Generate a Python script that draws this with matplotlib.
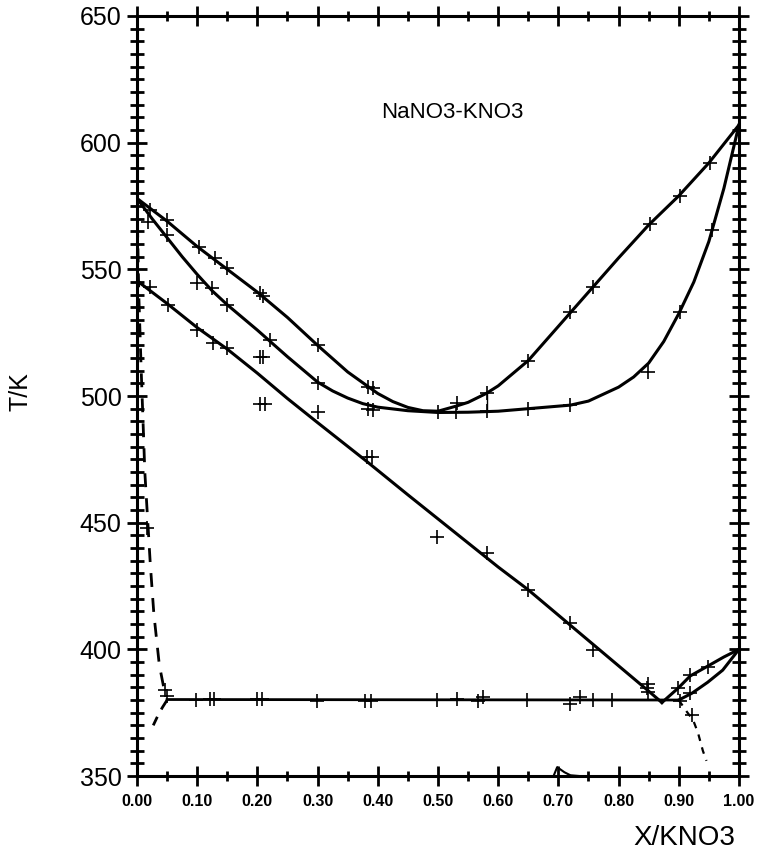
import matplotlib
matplotlib.use("Agg")
import matplotlib.pyplot as plt
import numpy as np

plt.rcParams["font.family"] = ["Liberation Sans", "DejaVu Sans"]

# upper curve (liquidus), closes at pure components
liq_x = [0.0, 0.025, 0.05, 0.10, 0.15, 0.20, 0.25, 0.30, 0.35, 0.40, 0.425, 0.45, 0.475,
         0.50, 0.53, 0.55, 0.58, 0.60, 0.65, 0.70, 0.75, 0.80, 0.85, 0.90, 0.95, 1.0]
liq_T = [578, 573.5, 569, 559, 550, 541, 531, 520, 509.5, 501, 497.8, 495.5, 494.2,
         494, 496, 497.5, 501, 504, 514, 527.5, 541, 554.5, 567.5, 579, 592, 607]

# middle curve (solidus)
sol_x = [0.0, 0.025, 0.05, 0.075, 0.10, 0.125, 0.15, 0.20, 0.25, 0.30, 0.325, 0.35,
         0.375, 0.40, 0.45, 0.50, 0.55, 0.60, 0.65, 0.72, 0.75, 0.80, 0.825, 0.85,
         0.875, 0.90, 0.925, 0.95, 0.975, 1.0]
sol_T = [578, 570, 562.5, 555, 548, 541.5, 536, 526, 515.5, 505.5, 502, 499.2,
         497, 495.6, 494.2, 493.5, 493.6, 494, 495, 496.4, 498, 503.5, 507.5, 513,
         521.5, 532.5, 545, 561, 582, 607]

# lower line down to the eutectic
low_x = [0.0, 0.025, 0.05, 0.10, 0.15, 0.20, 0.25, 0.30, 0.38, 0.45, 0.50, 0.55,
         0.60, 0.65, 0.70, 0.75, 0.80, 0.85, 0.872]
low_T = [545.5, 541, 536.5, 527, 518.5, 509, 499, 489.5, 474.5, 461, 451.5, 442,
         432.5, 423.5, 413.5, 403.5, 393.5, 383.5, 379]

# eutectic horizontal
eut_x = [0.05, 0.90]
eut_T = [380.2, 380]

# solvus lines near KNO3
solv_up_x = [0.872, 0.899, 0.919, 0.949, 0.975, 1.0]
solv_up_T = [379, 384.7, 389.5, 393.5, 397, 400]
solv_lo_x = [0.90, 0.922, 0.948, 0.973, 1.0]
solv_lo_T = [380, 382.7, 387, 391.8, 400]

# dashed solvus lines
dash_l_x = [0.0, 0.003, 0.007, 0.010, 0.013, 0.016, 0.019, 0.022, 0.028, 0.037, 0.046]
dash_l_T = [578, 540, 510, 490, 470, 458, 446, 434, 414, 394, 383]
dash_l2_x = [0.05, 0.042, 0.035, 0.027]
dash_l2_T = [380, 377, 374, 370]
dash_r_x = [0.90, 0.913, 0.924, 0.932, 0.94, 0.946]
dash_r_T = [380, 375.5, 372, 367, 360, 356]

# tie line at x=0.58 and small trace near the bottom axis
tie_x = [0.581, 0.581]
tie_T = [494, 501]
trace_x = [0.692, 0.698, 0.71, 0.72, 0.735]
trace_T = [350, 353.5, 351.5, 350.3, 350]

# experimental points (+)
pts_liq_x = [0.022, 0.05, 0.103, 0.13, 0.15, 0.204, 0.21, 0.30, 0.384, 0.392,
             0.532, 0.581, 0.65, 0.72, 0.758, 0.852, 0.902, 0.952]
pts_liq_T = [573.5, 569.5, 559, 554.5, 550.5, 540.5, 539.5, 520, 503.5, 503,
             497.3, 501, 514, 533, 543, 568, 579, 592]
pts_sol_x = [0.018, 0.05, 0.10, 0.124, 0.15, 0.221, 0.204, 0.21, 0.30, 0.384, 0.392,
             0.50, 0.53, 0.581, 0.65, 0.72, 0.849, 0.902, 0.955,
             0.204, 0.213, 0.30]
pts_sol_T = [568.7, 563.5, 544.6, 542.6, 536, 522, 515.4, 515.4, 505, 495, 494.5,
             493.7, 493.7, 494, 495, 496.4, 509.5, 533, 565.5,
             497, 497, 493.7]
pts_low_x = [0.022, 0.051, 0.10, 0.127, 0.15, 0.382, 0.39, 0.498, 0.581, 0.65,
             0.72, 0.757, 0.847, 0.849]
pts_low_T = [543, 536, 526, 521, 519, 476, 476, 444.3, 438, 423.4,
             410.4, 399.7, 384.7, 386.5]
pts_eut_x = [0.05, 0.098, 0.122, 0.128, 0.199, 0.208, 0.299, 0.379, 0.388, 0.498,
             0.531, 0.567, 0.575, 0.648, 0.719, 0.736, 0.757, 0.789, 0.849]
pts_eut_T = [381.5, 380, 380.5, 380.5, 380.5, 380.5, 379.5, 379.5, 379.5, 380,
             380.5, 379.5, 381, 380, 378.5, 381, 380, 380, 383]
pts_solv_x = [0.899, 0.919, 0.949, 0.902, 0.919, 0.922, 0.017, 0.046]
pts_solv_T = [384.7, 389.8, 393, 379.5, 382.7, 374, 448, 384]

x_ticks = np.arange(0, 1.001, 0.1)
y_ticks = np.arange(350, 651, 50)

fig = plt.figure(figsize=(7.59, 8.51), dpi=100)
ax = fig.add_axes([0.1805, 0.0881, 0.7931, 0.8931])

lw = 2.2
ax.plot(liq_x, liq_T, color="black", lw=lw)
ax.plot(sol_x, sol_T, color="black", lw=lw)
ax.plot(low_x, low_T, color="black", lw=lw)
ax.plot(eut_x, eut_T, color="black", lw=2.0)
ax.plot(solv_up_x, solv_up_T, color="black", lw=lw)
ax.plot(solv_lo_x, solv_lo_T, color="black", lw=lw)
ax.plot(dash_l_x, dash_l_T, color="black", lw=2.0, ls=(0, (5, 4)))
ax.plot(dash_l2_x, dash_l2_T, color="black", lw=2.0, ls=(0, (4, 3)))
ax.plot(dash_r_x, dash_r_T, color="black", lw=1.6, ls=(0, (3, 3)))
ax.plot(tie_x, tie_T, color="black", lw=1.0)
ax.plot(trace_x, trace_T, color="black", lw=1.5)

for px, pt in [(pts_liq_x, pts_liq_T), (pts_sol_x, pts_sol_T), (pts_low_x, pts_low_T),
               (pts_eut_x, pts_eut_T), (pts_solv_x, pts_solv_T)]:
    ax.plot(px, pt, ls="none", marker="+", ms=10, mew=1.2, color="black")

ax.set_xlim(0, 1)
ax.set_ylim(350, 650)
ax.set_xticks(x_ticks)
ax.set_xticks(np.arange(0.05, 1.0, 0.1), minor=True)
ax.set_xticklabels([f"{v:.2f}" for v in x_ticks], fontsize=11.5, fontweight="bold")
ax.set_yticks(y_ticks)
ax.set_yticks(np.arange(350, 651, 5), minor=True)
ax.set_yticklabels([str(v) for v in y_ticks], fontsize=18)

for s in ax.spines.values():
    s.set_linewidth(2.2)
ax.tick_params(which="both", direction="inout", top=True, right=True,
               width=2.0, color="black")
ax.tick_params(which="major", length=14)
ax.tick_params(axis="x", which="minor", length=7)
ax.tick_params(axis="y", which="minor", length=10)
ax.tick_params(axis="x", which="major", pad=6)
ax.tick_params(axis="y", which="major", pad=4)

ax.text(0.523, 612, "NaNO3-KNO3", fontsize=16, ha="center", va="center")
fig.text(21 / 759, 1 - 392 / 851, "T/K", rotation=90, fontsize=18,
         ha="center", va="center")
fig.text(684 / 759, 1 - 838 / 851, "X/KNO3", fontsize=20, ha="center", va="center")

fig.savefig("out.png", dpi=100)
